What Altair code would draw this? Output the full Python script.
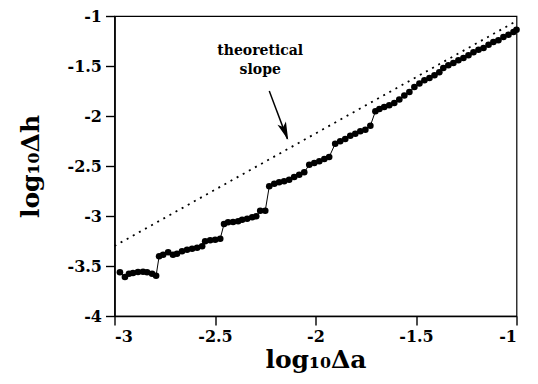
import altair as alt
import pandas as pd

# measured series (log10 Δa, log10 Δh)
xs = [-2.973, -2.948, -2.928, -2.908, -2.883, -2.858, -2.838, -2.813, -2.793,
      -2.778, -2.758, -2.733, -2.709, -2.689, -2.664, -2.639, -2.614, -2.589, -2.564, -2.549, -2.524, -2.499, -2.474,
      -2.455, -2.435, -2.410, -2.385, -2.365, -2.340, -2.315, -2.295, -2.275, -2.250,
      -2.230, -2.205, -2.181, -2.156, -2.131, -2.106, -2.081, -2.056,
      -2.031, -2.006, -1.981, -1.956, -1.932,
      -1.902, -1.877, -1.852, -1.827, -1.802, -1.777, -1.752, -1.727,
      -1.702, -1.682, -1.658, -1.633, -1.608, -1.583, -1.558, -1.533, -1.508, -1.483,
      -1.458, -1.433, -1.408, -1.384, -1.364, -1.339, -1.314, -1.289, -1.264, -1.239,
      -1.214, -1.189, -1.164, -1.139, -1.115, -1.090, -1.065, -1.040, -1.015, -1.000]
ys = [-3.563, -3.610, -3.577, -3.570, -3.560, -3.557, -3.563, -3.577, -3.597,
      -3.403, -3.387, -3.363, -3.387, -3.377, -3.353, -3.337, -3.327, -3.317, -3.303, -3.253, -3.243, -3.237, -3.227,
      -3.080, -3.063, -3.060, -3.053, -3.037, -3.027, -3.013, -3.003, -2.947, -2.947,
      -2.703, -2.677, -2.663, -2.653, -2.637, -2.610, -2.587, -2.563,
      -2.487, -2.470, -2.453, -2.430, -2.410,
      -2.277, -2.253, -2.230, -2.197, -2.177, -2.153, -2.137, -2.097,
      -1.953, -1.930, -1.910, -1.893, -1.870, -1.835, -1.795, -1.760, -1.710, -1.675,
      -1.643, -1.620, -1.593, -1.563, -1.520, -1.493, -1.470, -1.443, -1.420, -1.393,
      -1.363, -1.337, -1.320, -1.287, -1.260, -1.243, -1.210, -1.187, -1.160, -1.137]

# theoretical slope line
theory_x = [-3.0, -1.0]
theory_y = [-3.3, -1.05]

# annotation
note_x = [-2.275, -2.275]
note_y = [-1.35, -1.54]
note_text = ["theoretical", "slope"]
arrow_x = [-2.230, -2.140]
arrow_y = [-1.75, -2.23]
head_x = [-2.152]
head_y = [-2.156]

x_ticks = [-3, -2.5, -2, -1.5, -1]
y_ticks = [-4, -3.5, -3, -2.5, -2, -1.5, -1]

FONT = "DejaVu Serif"

data = pd.DataFrame({"x": xs, "y": ys})
theory = pd.DataFrame({"x": theory_x, "y": theory_y})
notes = pd.DataFrame({"x": note_x, "y": note_y, "t": note_text})
arrow = pd.DataFrame({"x": arrow_x, "y": arrow_y})
head = pd.DataFrame({"x": head_x, "y": head_y})

lab = "(datum.value < 0 ? '-' : '') + format(abs(datum.value), '~g')"

common = dict(labelExpr=lab, labelFont=FONT, labelFontWeight="bold", labelFontSize=16,
              labelColor="black", titleFont=FONT, titleFontWeight="bold", titleFontSize=25,
              titleColor="black")

X = alt.X("x:Q", scale=alt.Scale(domain=[-3, -1], nice=False, zero=False),
          axis=alt.Axis(values=x_ticks, title="log₁₀Δa",
                        tickSize=9, labelPadding=3, titlePadding=3, **common))
Y = alt.Y("y:Q", scale=alt.Scale(domain=[-4, -1], nice=False, zero=False),
          axis=alt.Axis(values=y_ticks, title="log₁₀Δh",
                        tickSize=9, labelPadding=4, titlePadding=24, **common))

line = alt.Chart(data).mark_line(color="black", strokeWidth=1).encode(x=X, y=Y)
pts = alt.Chart(data).mark_circle(color="black", size=44, opacity=1).encode(x=X, y=Y)
th = alt.Chart(theory).mark_line(color="black", strokeWidth=1.8, strokeDash=[2, 5]).encode(x=X, y=Y)
txt = alt.Chart(notes).mark_text(font=FONT, fontWeight="bold", fontSize=14,
                                 color="black", baseline="middle").encode(x=X, y=Y, text="t:N")
arr = alt.Chart(arrow).mark_line(color="black", strokeWidth=1.5).encode(x=X, y=Y)
hd = alt.Chart(head).mark_point(shape="M0,1 L-0.5,-1 L0,-0.55 L0.5,-1 Z", size=330,
                                filled=True, color="black", opacity=1, angle=339).encode(x=X, y=Y)

chart = alt.layer(th, line, pts, arr, hd, txt).properties(
    width=402, height=300,
    autosize=alt.AutoSizeParams(type="none"),
    padding={"left": 106.5, "top": 8, "right": 13.5, "bottom": 60},
).configure_view(stroke="black", strokeWidth=1.2).configure_axis(
    grid=False, domainColor="black", domainWidth=1.6, tickColor="black", tickWidth=1.4,
)

chart.save("out.html", embed_options={"renderer": "svg", "actions": False})
